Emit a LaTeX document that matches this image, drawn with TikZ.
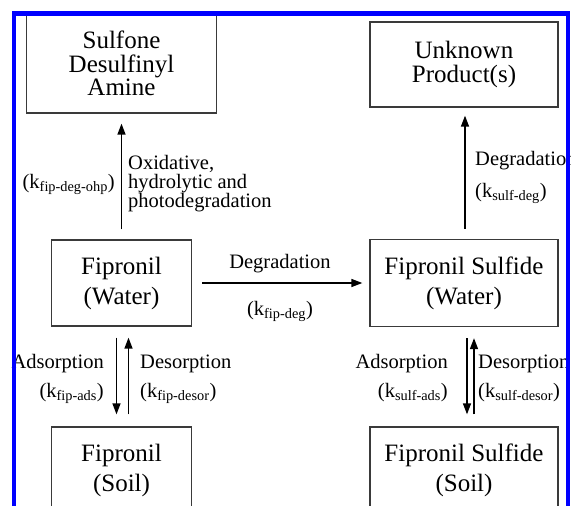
\documentclass[tikz,border=0pt]{standalone}
\usepackage{fontspec}
\setmainfont{Liberation Serif}
\usepackage{tikz}
\usetikzlibrary{arrows.meta}
\definecolor{boxgray}{HTML}{3A3A3A}
\newcommand{\krate}[1]{(k\textsubscript{#1})}

\begin{document}
\begin{tikzpicture}[
    x=1pt,y=-1pt,
    box/.style={draw=boxgray, line width=1.3pt, align=center, inner sep=0pt,
      font=\fontsize{25}{30}\selectfont},
    tight/.style={font=\fontsize{25}{23.5}\selectfont},
    lbl/.style={inner sep=0pt, font=\fontsize{20.5}{18.5}\selectfont},
    tag/.style={lbl, text height=14pt, text depth=4pt},
    arr/.style={line width=1.4pt, -{Triangle[length=11pt,width=8pt]},
      shorten <=10pt}
    ]
    \useasboundingbox (0,0) rectangle (571,506);
    \clip (0,0) rectangle (570,506);
    \node[box, tight, minimum width=190pt, minimum height=99pt] (sdsa) at (121.5,63.5) {Sulfone\\Desulfinyl\\Amine};
    \node[box, tight, minimum width=188pt, minimum height=85pt] (unk) at (464,64.5) {Unknown\\Product(s)};
    \node[box, minimum width=140pt, minimum height=86pt] (fipw) at (121.5,283) {Fipronil\\(Water)};
    \node[box, minimum width=188pt, minimum height=87pt] (sulfw) at (464,283) {Fipronil Sulfide\\(Water)};
    \node[box, minimum width=140pt, minimum height=86pt] (fips) at (121.5,470) {Fipronil\\(Soil)};
    \node[box, minimum width=188pt, minimum height=86pt] (sulfs) at (464,470) {Fipronil Sulfide\\(Soil)};
    \draw[arr, shorten >=10pt] (fipw.north) -- (sdsa.south);
    \draw[arr, shorten >=8pt] ([xshift=1pt]sulfw.north) -- ([xshift=1pt]unk.south);
    \draw[arr, shorten >=7pt] (fipw.east) -- (sulfw.west);
    \draw[arr, shorten <=11pt, shorten >=12pt] ([xshift=-5pt]fipw.south) -- ([xshift=-5pt]fips.north);
    \draw[arr, shorten <=12pt, shorten >=11pt] ([xshift=7pt]fips.north) -- ([xshift=7pt]fipw.south);
    \draw[arr, shorten <=11pt, shorten >=12pt] ([xshift=3pt]sulfw.south) -- ([xshift=3pt]sulfs.north);
    \draw[arr, shorten <=12pt, shorten >=11pt] ([xshift=10pt]sulfs.north) -- ([xshift=10pt]sulfw.south);
    \node[tag, anchor=east] (kohp) at (115,183) {\krate{fip-deg-ohp}};
    \node[lbl, anchor=west, align=left] (oxid) at (128,184) {Oxidative,\\hydrolytic and\\photodegradation};
    \node[tag, anchor=west] (sdeg) at (475,160) {Degradation};
    \node[tag, anchor=west] (ksdeg) at (475,192) {\krate{sulf-deg}};
    \node[tag] (fdeg) at (280,263) {Degradation};
    \node[tag] (kfdeg) at (280,310) {\krate{fip-deg}};
    \node[tag, anchor=east] (fads) at (104,363) {Adsorption};
    \node[tag, anchor=east] (kfads) at (104,392) {\krate{fip-ads}};
    \node[tag, anchor=west] (fdes) at (140,363) {Desorption};
    \node[tag, anchor=west] (kfdes) at (140,392) {\krate{fip-desor}};
    \node[tag, anchor=east] (sads) at (448,363) {Adsorption};
    \node[tag, anchor=east] (ksads) at (448,392) {\krate{sulf-ads}};
    \node[tag, anchor=west] (sdes) at (478,363) {Desorption};
    \node[tag, anchor=west] (ksdes) at (478,392) {\krate{sulf-desor}};
    \fill[blue] (12,11) rectangle (570,16);
    \fill[blue] (12,11) rectangle (16,506);
    \fill[blue] (566,11) rectangle (570,506);
\end{tikzpicture}
\end{document}
